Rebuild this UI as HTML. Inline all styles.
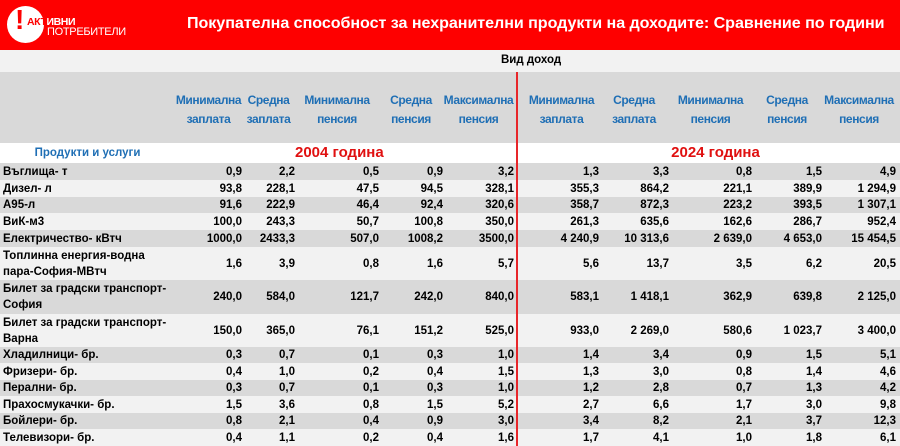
<!DOCTYPE html>
<html><head><meta charset="utf-8"><style>
*{margin:0;padding:0;box-sizing:border-box}
body{width:900px;height:446px;overflow:hidden;background:#fff;font-family:"Liberation Sans","DejaVu Sans",sans-serif;position:relative}
.banner{position:absolute;left:0;top:0;width:900px;height:50px;background:#fe0000}
.title{position:absolute;left:187px;top:14px;color:#fff;font-weight:bold;font-size:16.1px;white-space:nowrap;letter-spacing:-0.05px}
.circ{position:absolute;left:7px;top:6px;width:37px;height:37px;border-radius:50%;background:#fff}
.excl{position:absolute;left:15px;top:6px;color:#fe0000;font-weight:bold;font-size:28px;line-height:28px}
.l1{position:absolute;left:27px;top:16px;font-weight:bold;font-size:10.5px;color:#fff;letter-spacing:-0.4px}
.l1 span{color:#fe0000}
.l2{position:absolute;left:47px;top:26px;font-size:11px;color:#fff;letter-spacing:-0.3px}
.vid{position:absolute;left:0;top:50px;width:900px;height:22px;background:#f2f2f2}
.vid div{position:absolute;left:501px;top:4px;font-weight:bold;font-size:11.5px}
table{position:absolute;left:0;top:72px;border-collapse:collapse;table-layout:fixed;width:900px}
td{padding:0;font-weight:bold;font-size:11.5px;text-align:right;white-space:nowrap;line-height:14px}
td:first-child{text-align:left;padding-left:3px;white-space:normal}
tr.h td{height:71px;background:#d9d9d9;color:#1f6fb5;text-align:center;font-size:12px;line-height:19px;padding-top:4px;letter-spacing:-0.4px}
tr.y td{height:20px;background:#fff}
tr.g td{background:#d9d9d9}
tr.w td{background:#f2f2f2}
.yr{color:#e01010;font-size:15px;text-align:center!important}
.redline{position:absolute;left:516px;top:72px;width:2px;height:374px;background:#e8262a}
</style></head><body>
<div class="banner"></div>
<div class="circ"></div><div class="excl">!</div>
<div class="l1"><span>АКТ</span>ИВНИ</div>
<div class="l2">ПОТРЕБИТЕЛИ</div>
<div class="title">Покупателна способност за нехранителни продукти на доходите: Сравнение по години</div>
<div class="vid"><div>Вид доход</div></div>
<table>
<colgroup><col style="width:175px"><col style="width:67px"><col style="width:53px"><col style="width:84px"><col style="width:64px"><col style="width:71px"><col style="width:85px"><col style="width:70px"><col style="width:83px"><col style="width:70px"><col style="width:74px"><col style="width:4px"></colgroup>
<tr class="h"><td></td><td>Минимална<br>заплата</td><td>Средна<br>заплата</td><td>Минимална<br>пенсия</td><td>Средна<br>пенсия</td><td>Максимална<br>пенсия</td><td style="padding-left:10px">Минимална<br>заплата</td><td>Средна<br>заплата</td><td>Минимална<br>пенсия</td><td>Средна<br>пенсия</td><td>Максимална<br>пенсия</td><td></td></tr>
<tr class="y"><td style="color:#1f6fb5;text-align:center;padding-left:0">Продукти и услуги</td><td></td><td></td><td colspan="2" class="yr" style="text-align:left!important">2004 година</td><td></td><td></td><td colspan="3" class="yr" style="padding-right:0px;padding-left:10px">2024 година</td><td></td><td></td></tr>
<tr class="g" style="height:17px"><td>Въглища- т</td><td>0,9</td><td>2,2</td><td>0,5</td><td>0,9</td><td>3,2</td><td>1,3</td><td>3,3</td><td>0,8</td><td>1,5</td><td>4,9</td><td></td></tr>
<tr class="w" style="height:17px"><td>Дизел- л</td><td>93,8</td><td>228,1</td><td>47,5</td><td>94,5</td><td>328,1</td><td>355,3</td><td>864,2</td><td>221,1</td><td>389,9</td><td>1 294,9</td><td></td></tr>
<tr class="g" style="height:16px"><td>А95-л</td><td>91,6</td><td>222,9</td><td>46,4</td><td>92,4</td><td>320,6</td><td>358,7</td><td>872,3</td><td>223,2</td><td>393,5</td><td>1 307,1</td><td></td></tr>
<tr class="w" style="height:17px"><td>ВиК-м3</td><td>100,0</td><td>243,3</td><td>50,7</td><td>100,8</td><td>350,0</td><td>261,3</td><td>635,6</td><td>162,6</td><td>286,7</td><td>952,4</td><td></td></tr>
<tr class="g" style="height:17px"><td>Електричество- кВтч</td><td>1000,0</td><td>2433,3</td><td>507,0</td><td>1008,2</td><td>3500,0</td><td>4 240,9</td><td>10 313,6</td><td>2 639,0</td><td>4 653,0</td><td>15 454,5</td><td></td></tr>
<tr class="w" style="height:33px"><td style="line-height:16px">Топлинна енергия-водна<br>пара-София-МВтч</td><td>1,6</td><td>3,9</td><td>0,8</td><td>1,6</td><td>5,7</td><td>5,6</td><td>13,7</td><td>3,5</td><td>6,2</td><td>20,5</td><td></td></tr>
<tr class="g" style="height:34px"><td style="line-height:16px">Билет за градски транспорт-<br>София</td><td>240,0</td><td>584,0</td><td>121,7</td><td>242,0</td><td>840,0</td><td>583,1</td><td>1 418,1</td><td>362,9</td><td>639,8</td><td>2 125,0</td><td></td></tr>
<tr class="w" style="height:33px"><td style="line-height:16px">Билет за градски транспорт-<br>Варна</td><td>150,0</td><td>365,0</td><td>76,1</td><td>151,2</td><td>525,0</td><td>933,0</td><td>2 269,0</td><td>580,6</td><td>1 023,7</td><td>3 400,0</td><td></td></tr>
<tr class="g" style="height:16px"><td>Хладилници- бр.</td><td>0,3</td><td>0,7</td><td>0,1</td><td>0,3</td><td>1,0</td><td>1,4</td><td>3,4</td><td>0,9</td><td>1,5</td><td>5,1</td><td></td></tr>
<tr class="w" style="height:17px"><td>Фризери- бр.</td><td>0,4</td><td>1,0</td><td>0,2</td><td>0,4</td><td>1,5</td><td>1,3</td><td>3,0</td><td>0,8</td><td>1,4</td><td>4,6</td><td></td></tr>
<tr class="g" style="height:16px"><td>Перални- бр.</td><td>0,3</td><td>0,7</td><td>0,1</td><td>0,3</td><td>1,0</td><td>1,2</td><td>2,8</td><td>0,7</td><td>1,3</td><td>4,2</td><td></td></tr>
<tr class="w" style="height:17px"><td>Прахосмукачки- бр.</td><td>1,5</td><td>3,6</td><td>0,8</td><td>1,5</td><td>5,2</td><td>2,7</td><td>6,6</td><td>1,7</td><td>3,0</td><td>9,8</td><td></td></tr>
<tr class="g" style="height:16px"><td>Бойлери- бр.</td><td>0,8</td><td>2,1</td><td>0,4</td><td>0,9</td><td>3,0</td><td>3,4</td><td>8,2</td><td>2,1</td><td>3,7</td><td>12,3</td><td></td></tr>
<tr class="w" style="height:17px"><td>Телевизори- бр.</td><td>0,4</td><td>1,1</td><td>0,2</td><td>0,4</td><td>1,6</td><td>1,7</td><td>4,1</td><td>1,0</td><td>1,8</td><td>6,1</td><td></td></tr>
</table>
<div class="redline"></div>
</body></html>
